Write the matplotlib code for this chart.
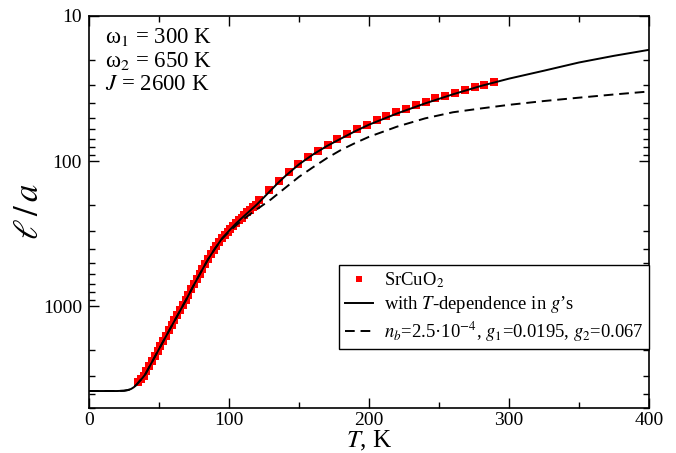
import numpy as np
import matplotlib
matplotlib.use("Agg")
import matplotlib.pyplot as plt
from matplotlib.ticker import FixedLocator, LogLocator, NullFormatter, MultipleLocator

plt.rcParams['font.family'] = ['Liberation Serif', 'DejaVu Serif']
plt.rcParams['mathtext.fontset'] = 'stix'

# measured points (SrCuO2), T in K, l/a
T_data = [35, 37, 39, 41, 43, 45, 47, 49, 51, 53, 55, 57, 59, 61, 63, 65, 67, 69,
          71, 73, 75, 77, 79, 81, 83, 85, 87, 89, 91, 93, 95, 97, 99, 101, 103,
          105, 107, 109, 111, 113, 115, 117, 119,
          121.5, 128.5, 135.5, 142.5, 149.5, 156.5, 163.5, 170.5, 177.5, 184.5,
          191.5, 198.5, 205.5, 212.5, 219.5, 226.5, 233.5, 240.5, 247.5, 254.5,
          261.5, 268.5, 275.5, 282.5, 289.5]
l_data = [3321, 3158, 2998, 2800, 2583, 2382, 2195, 2022, 1863, 1718, 1585, 1461,
          1348, 1244, 1147, 1059, 976, 901, 829, 762, 700, 645, 595, 550, 507,
          468, 438, 408, 382, 359, 336, 320, 305, 291, 277, 265, 254, 244, 234,
          225, 216, 207, 199,
          186, 159, 137, 118, 104, 94, 85, 77.3, 70.7, 65.3, 60.4, 56.1, 52.1,
          48.9, 45.9, 43.4, 41.1, 38.8, 36.8, 35.3, 33.8, 32.3, 31.0, 29.8, 28.4]

# model with T-dependence in g's
T_fit = [0, 20, 25, 28, 30, 32, 34, 36, 38, 40, 45, 50, 55, 60, 65, 70, 75, 80,
         85, 90, 95, 100, 105, 110, 115, 120, 125, 130, 135, 140, 150, 160, 170,
         180, 190, 200, 220, 240, 260, 280, 300, 325, 350, 375, 400]
l_fit = [3819, 3819, 3802, 3758, 3698, 3597, 3451, 3273, 3119, 2951, 2410, 1963,
         1603, 1309, 1072, 875, 708, 578, 474, 399, 340, 301, 268, 242, 219, 198,
         177, 158, 141, 127, 105, 89.8, 78.5, 69.8, 62.2, 56.0, 46.9, 40.0, 34.6,
         30.3, 27.0, 23.8, 20.9, 18.8, 17.1]

# constant g's model
T_const = [0, 20, 25, 28, 30, 32, 34, 36, 38, 40, 45, 50, 55, 60, 65, 70, 75, 80,
           85, 90, 95, 100, 105, 110, 115, 120, 130, 140, 150, 160, 170, 180, 190,
           200, 220, 240, 260, 280, 300, 325, 350, 375, 400]
l_const = [3819, 3819, 3802, 3758, 3698, 3597, 3451, 3273, 3119, 2951, 2410, 1963,
           1603, 1309, 1072, 875, 708, 578, 474, 399, 342, 306, 276, 252, 232, 214,
           183, 153, 128, 110, 95.1, 83.6, 75.0, 67.9, 57.8, 50.7, 46.0, 43.3, 40.9,
           38.5, 36.5, 34.7, 33.1]

fig = plt.figure(figsize=(6.76, 4.53), dpi=100)
ax = fig.add_axes([0.1317, 0.0993, 0.8283, 0.8654])

ax.plot(T_data, l_data, 's', color='red', markersize=5.3, markeredgewidth=0,
        label='SrCuO$_2$', zorder=2)
ax.plot(T_fit, l_fit, '-', color='black', lw=1.4,
        label='with $T$-dependence in $g$\u2019s', zorder=3)
dash, = ax.plot(T_const, l_const, '--', color='black', lw=1.4,
                label='$n_b$=2.5\u00b710$^{-4}$, $g_1$=0.0195, $g_2$=0.067', zorder=3)
dash.set_dashes((5, 3))

ax.set_yscale('log')
ax.set_ylim(5000, 10)
ax.set_xlim(0, 400)

ax.yaxis.set_major_locator(FixedLocator([10, 100, 1000]))
ax.set_yticklabels(['10', '100', '1000'])
ax.yaxis.set_minor_locator(LogLocator(base=10, subs=np.arange(2, 10)))
ax.yaxis.set_minor_formatter(NullFormatter())
ax.xaxis.set_major_locator(MultipleLocator(100))
ax.xaxis.set_minor_locator(MultipleLocator(50))

ax.tick_params(which='both', direction='in', top=True, right=True, labelsize=14)
ax.tick_params(which='major', length=7, width=1.0)
ax.tick_params(axis='x', which='major', pad=3)
ax.tick_params(axis='y', which='major', pad=5)
ax.tick_params(which='minor', length=4, width=1.0)
for s in ax.spines.values():
    s.set_linewidth(1.2)

ax.set_xlabel('$T$, K', fontsize=18, labelpad=0)
ax.set_ylabel('$\\ell\\,/\\,a$', fontsize=25, labelpad=-2)

ax.text(0.028, 0.975, '\u03c9$_1$ = 300 K\n\u03c9$_2$ = 650 K\n$J$ = 2600 K',
        transform=ax.transAxes, fontsize=16.5, va='top', ha='left', linespacing=1.12)

leg = ax.legend(loc='lower right', bbox_to_anchor=(1.0, 0.15), fontsize=13.4,
                frameon=True, fancybox=False, edgecolor='black', framealpha=1,
                handlelength=1.5, handletextpad=0.6, borderpad=0.3,
                borderaxespad=0, labelspacing=0.22, markerscale=0.8)
leg.get_frame().set_linewidth(1.0)

fig.savefig('out.png', dpi=100)
